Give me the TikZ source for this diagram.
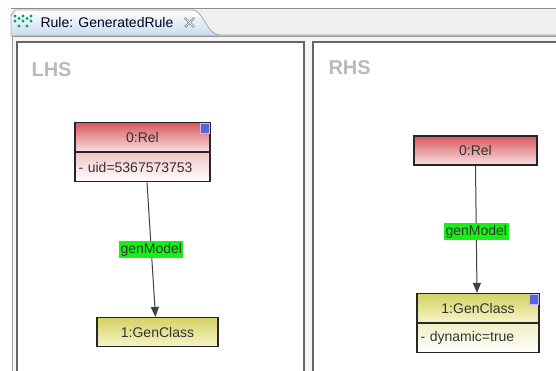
\documentclass[tikz,border=0pt]{standalone}
\usepackage{fontspec}
\setmainfont{Liberation Sans}
\usetikzlibrary{arrows.meta,positioning}

\definecolor{relTop}{HTML}{D9575C}
\definecolor{relBot}{HTML}{F7E0E0}
\definecolor{relAttr}{HTML}{F2C4C6}
\definecolor{genTop}{HTML}{D6D163}
\definecolor{genBot}{HTML}{F6F4C8}
\definecolor{genAttr}{HTML}{F1EFC4}
\definecolor{btnBlue}{HTML}{5666D8}
\definecolor{tabBlue}{HTML}{C9DAEE}
\definecolor{barGray}{HTML}{EFEFEF}
\definecolor{lblGreen}{HTML}{16F016}

\tikzset{
  box/.style={draw=black!85, line width=1.2pt, inner sep=0pt, minimum height=29pt,
    font=\fontsize{14}{16}\selectfont, text=black!80},
  relbox/.style={box, top color=relTop, bottom color=relBot},
  genbox/.style={box, top color=genTop, bottom color=genBot},
  attrbox/.style={box, align=left, inner xsep=1.5pt, bottom color=white},
  collapse/.style={draw=blue!25, line width=0.6pt, fill=btnBlue, minimum width=9pt,
    minimum height=10pt, inner sep=0pt, anchor=north east},
  rolelbl/.style={fill=lblGreen, inner xsep=1.5pt, inner ysep=2pt,
    font=\fontsize{14}{16}\selectfont, text=black!80},
  paneltitle/.style={font=\fontsize{20}{22}\selectfont\bfseries, text=black!27, anchor=west},
  panel/.style={draw=black!60, line width=2pt, fill=white}
}

\begin{document}
\begin{tikzpicture}[x=1pt,y=-1pt,>={Triangle[length=10pt,width=8pt]}]
  \clip (0,0) rectangle (556,371);
  \fill[white] (0,0) rectangle (556,371);

  % editor tab bar
  \fill[barGray] (11,9) rectangle (556,35);
  \draw[black!45, line width=1.5pt] (11,8.5) -- (556,8.5);
  \shade[top color=white, bottom color=tabBlue, draw=black!35, line width=0.8pt]
    (11,36) -- (11,15) to[out=-90,in=180] (16,10) -- (192,10)
    .. controls (204,10) and (206,35) .. (220,35) -- (556,35) -- (556,36) -- cycle;
  \draw[tabBlue!80!black!80, line width=1pt] (11,35.5) -- (556,35.5);
  \foreach \px/\py in {15/16,15/21,19/18.5,23/16,23/21,27/18.5,31/16,31/21,19/26,27/26}
    \fill[teal!70!green] (\px,\py) circle (1.7);
  \node[font=\fontsize{14}{16}\selectfont, text=black!85!blue, anchor=west] (title) at (37,22) {Rule: GeneratedRule};
  \draw[black!45, line width=2.2pt] (185,18) -- (194,27) (185,27) -- (194,18);
  \draw[white, line width=0.7pt] (185.5,18.5) -- (193.5,26.5) (185.5,26.5) -- (193.5,18.5);

  % frame and panels
  \draw[black!40, line width=1pt, fill=black!4] (12,37) rectangle (570,390);
  \draw[panel] (17,42) rectangle (304,390);
  \draw[panel] (313,42) rectangle (570,390);
  \node[paneltitle] (lhs) at (28,70) {LHS};
  \node[paneltitle] (rhs) at (325,68) {RHS};

  % left hand side
  \node[relbox, minimum width=135pt] (lrel) at (142.5,137) {0:Rel};
  \node[attrbox, top color=relAttr, minimum width=135pt, text width=128pt, below=0pt of lrel] (luid) {- uid=5367573753};
  \node[collapse] (lbtn) at ([xshift=-1pt,yshift=-1pt]lrel.north east) {};
  \node[genbox, minimum width=121pt] (lgen) at (157.5,332) {1:GenClass};
  \draw[->, black!75, line width=1pt] ([xshift=4.5pt]luid.south) -- node[rolelbl] {genModel} ([xshift=-2pt]lgen.north);

  % right hand side
  \node[relbox, minimum width=123pt] (rrel) at (475.5,150.5) {0:Rel};
  \node[genbox, minimum width=122pt] (rgen) at (478,308) {1:GenClass};
  \node[attrbox, top color=genAttr, minimum width=122pt, text width=115pt, below=0pt of rgen] (rdyn) {- dynamic=true};
  \node[collapse] (rbtn) at ([xshift=-1pt,yshift=-1pt]rgen.north east) {};
  \draw[->, black!75, line width=1pt] (rrel.south) -- node[rolelbl, pos=0.52] {genModel} ([xshift=-1pt]rgen.north);
\end{tikzpicture}
\end{document}
